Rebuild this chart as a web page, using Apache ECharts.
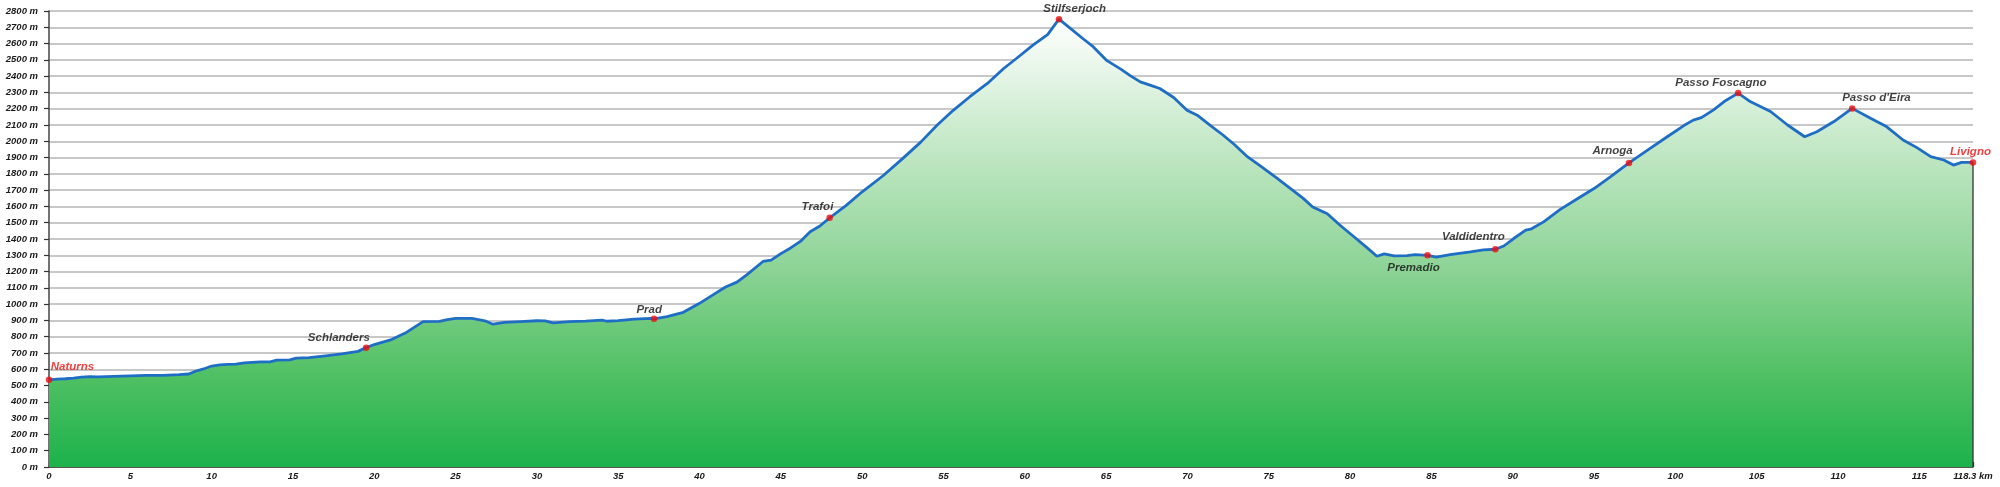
<!DOCTYPE html>
<html>
<head>
<meta charset="utf-8">
<script src="https://cdn.jsdelivr.net/npm/echarts@6/dist/echarts.min.js"></script>
<style>
html,body{margin:0;padding:0;background:#fff;}
#chart{width:2000px;height:487px;}
</style>
</head>
<body>
<div id="chart"></div>
<script>
// ---- data ----
const distKm = [0,0.5,1,1.5,2,2.5,3,4,5,6,7,8,8.6,9,9.5,10,10.5,11,11.5,12,13,13.6,14,14.8,15.2,16,17,18,19,19.5,20,21,22,23,24,24.5,25,26,26.8,27.3,28,29,30,30.5,31,32,33,34,34.3,35,36,37,37.2,38,39,40,40.8,41.6,42.3,42.9,43.9,44.4,45,45.6,46.2,46.8,47.4,48,49,50,51.3,52.5,53.6,54.6,55.6,56.6,57.7,58.7,59.5,60.5,61.4,62.1,62.8,63.6,64.2,65.05,65.9,66.5,67.1,67.7,68.3,69.15,69.97,70.6,71.4,72.2,72.9,73.7,74.5,75.5,76.3,77.1,77.7,78.6,79.4,80.2,81.0,81.65,82.1,82.7,83.5,84.0,84.76,85.3,86.15,87.4,88.2,88.93,89.45,90.06,90.8,91.1,91.9,92.9,94.0,95.0,96.0,97.15,98.2,99.5,100.5,101.1,101.6,102.35,103.0,103.86,104.6,105.85,106.9,107.95,108.7,109.75,110.87,112.0,113.0,114.0,114.85,115.7,116.5,117.1,117.6,118.3];
const elevM = [535,540,542,546,552,555,553,556,559,562,562,567,571,588,602,620,627,630,632,639,645,646,656,658,668,672,683,694,710,733,752,780,828,893,894,905,912,912,898,877,888,893,898,897,885,893,896,902,895,899,908,912,910,923,950,1005,1055,1105,1135,1180,1262,1270,1310,1345,1385,1445,1480,1530,1605,1690,1790,1895,1995,2098,2190,2272,2355,2447,2510,2590,2655,2750,2693,2628,2581,2495,2443,2402,2365,2345,2324,2269,2191,2160,2098,2037,1979,1904,1848,1774,1713,1651,1596,1555,1483,1417,1350,1294,1309,1296,1298,1304,1300,1288,1304,1321,1333,1337,1357,1403,1454,1460,1505,1580,1649,1710,1782,1867,1940,2028,2095,2130,2145,2193,2244,2296,2244,2183,2100,2028,2059,2121,2202,2141,2089,2008,1961,1906,1885,1854,1870,1870];

const placeNames = ['Naturns','Schlanders','Prad','Trafoi','Stilfserjoch','Premadio','Valdidentro','Arnoga','Passo Foscagno',"Passo d'Eira",'Livigno'];
const placeKm    = [0,19.5,37.2,48,62.1,84.76,88.93,97.15,103.86,110.87,118.3];
const placeElev  = [535,733,910,1530,2750,1300,1337,1867,2296,2202,1870];

const xTotalKm = 118.3;
const yMaxM = 2800;

// ---- styles (not data) ----
const labelOffsets = {
  'Naturns':[23.5,-13.3],'Schlanders':[-27.3,-9.7],'Prad':[-4.8,-9],'Trafoi':[-12.2,-11],
  'Stilfserjoch':[15.7,-10.7],'Premadio':[-14,12.6],'Valdidentro':[-22,-12.7],'Arnoga':[-16.5,-12.6],
  'Passo Foscagno':[-17.2,-10.7],"Passo d'Eira":[24.3,-10.7],'Livigno':[-2.5,-10.7]
};
const redLabels = {'Naturns':true,'Livigno':true};

const FONT = '"Liberation Sans", Arial, sans-serif';
const profile = distKm.map((d,i)=>[d, elevM[i]]);
const places = placeNames.map((n,i)=>({
  name:n, value:[placeKm[i], placeElev[i]],
  label:{
    show:true, formatter:n, position:'inside', offset:labelOffsets[n],
    color: redLabels[n] ? '#ee0f0f' : '#111111',
    fontFamily:FONT, fontSize:11.5, fontWeight:'bold', fontStyle:'italic'
  }
}));

const chart = echarts.init(document.getElementById('chart'), null, {renderer:'canvas'});
const axisLab = {fontFamily:FONT, fontSize:9.5, fontWeight:'bold', fontStyle:'italic', color:'#1a1a1a'};
chart.setOption({
  animation:false,
  backgroundColor:'#ffffff',
  grid:{left:49, right:27, top:11, bottom:20},
  xAxis:[{
    type:'value', min:0, max:xTotalKm, interval:5,
    axisLine:{show:true, onZero:false, lineStyle:{color:'#333', width:1.5}},
    axisTick:{show:true, inside:true, length:5, lineStyle:{color:'#333', width:1.3}},
    axisLabel:Object.assign({margin:4, formatter:v=> (Math.abs(v-xTotalKm)<1e-6 ? v+' km' : String(v)), showMaxLabel:true}, axisLab),
    splitLine:{show:false}
  },{
    type:'value', min:0, max:xTotalKm, interval:1, position:'bottom',
    axisLine:{show:false},
    axisTick:{show:true, inside:true, length:2, lineStyle:{color:'#333', width:1}},
    axisLabel:{show:false}, splitLine:{show:false}
  }],
  yAxis:{
    type:'value', min:0, max:yMaxM, interval:100,
    axisLine:{show:true, lineStyle:{color:'#444', width:1.5}},
    axisTick:{show:true, length:5, lineStyle:{color:'#333', width:1.2}},
    axisLabel:Object.assign({margin:11, formatter:v=>v+' m'}, axisLab),
    splitLine:{show:true, lineStyle:{color:'#c8c8c8', width:2}}
  },
  series:[{
    type:'line', data:profile, xAxisIndex:0, symbol:'none', smooth:false,
    lineStyle:{color:'#1f6ec6', width:2.8},
    areaStyle:{opacity:1, color:new echarts.graphic.LinearGradient(0,0,0,1,[
      {offset:0,color:'#ffffff'},{offset:0.3,color:'#c0e7c3'},{offset:0.55,color:'#8ed497'},
      {offset:0.8,color:'#4fc063'},{offset:1,color:'#1cb24b'}])},
    z:2
  },{
    type:'line', data:[[xTotalKm,0],[xTotalKm,placeElev[placeElev.length-1]]], symbol:'none',
    lineStyle:{color:'#333', width:1.3}, z:3
  },{
    type:'scatter', data:places, symbol:'circle', symbolSize:6.5,
    itemStyle:{color:'#ee0f0f'}, z:5
  }]
});
</script>
</body>
</html>
